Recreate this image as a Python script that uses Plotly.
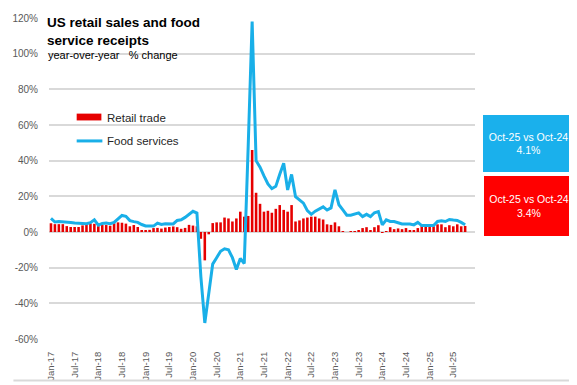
import plotly.graph_objects as go

# Month labels Jan-17 .. Dec-25 (axis runs to Dec-25, data ends Oct-25)
years = list(range(17, 26))
mnames = ["Jan", "Feb", "Mar", "Apr", "May", "Jun", "Jul", "Aug", "Sep", "Oct", "Nov", "Dec"]
months = [f"{m}-{y}" for y in years for m in mnames]

retail_trade = [
    4.9, 4.4, 4.4, 4.4, 3.3, 2.8, 2.8, 2.8, 3.7, 4.2, 4.7, 4.6,
    3.3, 3.9, 3.9, 3.5, 4.9, 5.4, 5.2, 4.7, 3.2, 3.9, 2.8, 0.7,
    0.8, 1.2, 2.2, 2.3, 1.9, 2.5, 2.8, 3.1, 2.7, 1.8, 2.3, 4.0,
    3.6, 3.2, -3.8, -15.9, -1.3, 5.0, 5.4, 5.4, 8.1, 7.6, 5.9, 7.6,
    11.4, 8.6, 9.0, 46.0, 22.0, 15.8, 11.4, 11.9, 10.8, 13.0, 15.1, 12.4,
    11.4, 15.1, 5.9, 6.5, 7.6, 8.1, 8.6, 8.6, 7.6, 7.0, 4.3, 4.0,
    5.4, 3.2, 0.1, 0.0, 0.5, 0.1, 1.1, 2.2, 2.7, 1.1, 2.7, 3.8,
    -0.5, 0.5, 2.7, 1.6, 2.0, 1.6, 2.2, 1.1, 1.1, 2.2, 4.3, 3.8,
    4.3, 3.2, 4.3, 4.3, 2.7, 3.8, 3.2, 4.3, 3.2, 3.4,
]

food_services = [
    7.6, 5.6, 5.9, 5.8, 5.6, 5.3, 5.0, 4.8, 4.6, 4.6, 5.2, 6.8,
    3.8, 4.8, 5.0, 4.7, 5.4, 7.2, 9.3, 8.8, 6.4, 5.8, 5.4, 4.2,
    3.4, 3.3, 3.3, 5.0, 4.2, 4.6, 4.4, 4.5, 6.5, 6.9, 8.2, 10.0,
    11.6, 10.6, -25.0, -51.0, -34.0, -18.0, -14.4, -10.8, -9.4, -10.0, -14.4, -21.0,
    -14.8, -17.7, 48.0, 118.0, 40.0, 36.4, 31.5, 27.0, 24.3, 25.6, 32.4, 38.5,
    23.6, 32.3, 19.8, 18.2, 16.2, 12.0, 9.9, 11.7, 12.8, 14.1, 12.3, 13.5,
    23.6, 15.3, 12.4, 9.4, 9.4, 9.9, 10.7, 8.6, 9.9, 8.6, 10.8, 11.4,
    4.0, 6.8, 5.9, 5.9, 5.4, 4.5, 4.5, 4.5, 4.0, 5.4, 3.6, 3.6,
    4.0, 3.6, 5.9, 6.3, 5.9, 7.0, 6.7, 6.5, 5.4, 4.1,
]

tick_labels = months[0:103:6]
y_ticks = [-60, -40, -20, 0, 20, 40, 60, 80, 100, 120]
y_ticktext = [f"{v}%" for v in y_ticks]

title_text = "US retail sales and food<br>service receipts"
subtitle_text = "year-over-year\u00a0\u00a0\u00a0% change"
legend_names = ["Retail trade", "Food services"]
box_food = "Oct-25 vs Oct-24<br>4.1%"
box_retail = "Oct-25 vs Oct-24<br>3.4%"

BLUE = "#19AFE8"
RED = "#E60000"
GRID = "#D9D9D9"
TXT = "#595959"
FONT = "Liberation Sans, Arial, sans-serif"

# page body has an 8px margin: design in screen coords, shift by OFF
OFF = 8
W, H = 569, 377
L, R, T, B = 36, 102, 4, 44
pw, ph = W - L - R, H - T - B


def px(xs):
    return (xs - OFF - L) / pw


def py(ys):
    return (H - B - (ys - OFF)) / ph


n = len(retail_trade)
fig = go.Figure()
fig.add_trace(go.Bar(
    x=months[:n], y=retail_trade, name=legend_names[0],
    marker=dict(color=RED, line=dict(width=0)), showlegend=False,
))
fig.add_trace(go.Scatter(
    x=months[:len(food_services)], y=food_services, name=legend_names[1],
    mode="lines", line=dict(color=BLUE, width=3), showlegend=False,
))

annotations = [
    dict(text=title_text, x=px(41), y=py(8), xanchor="left", yanchor="top",
         align="left", borderpad=0,
         font=dict(size=13.5, color="#000000", family=FONT, weight="bold")),
    dict(text=subtitle_text, x=px(41), y=py(42), xanchor="left", yanchor="top",
         align="left", font=dict(size=11, color="#000000")),
    dict(text=legend_names[0], x=px(101), y=py(114), xanchor="left", yanchor="middle",
         font=dict(size=11.5, color="#262626")),
    dict(text=legend_names[1], x=px(101), y=py(138), xanchor="left", yanchor="middle",
         font=dict(size=11.5, color="#262626")),
    dict(text=box_food, x=px(529.5), y=py(140.5), xanchor="center", yanchor="middle",
         bgcolor="#1AB0EC", width=91, height=57, borderpad=0, borderwidth=0,
         font=dict(size=10.5, color="white")),
    dict(text=box_retail, x=px(530), y=py(205), xanchor="center", yanchor="middle",
         bgcolor="#FF0000", width=90, height=60, borderpad=0, borderwidth=0,
         font=dict(size=10.5, color="white")),
]
for a in annotations:
    a.update(xref="paper", yref="paper", showarrow=False)

shapes = [
    # legend swatches
    dict(type="rect", xref="paper", yref="paper", x0=px(72), x1=px(97),
         y0=py(117), y1=py(110), fillcolor=RED, line=dict(width=0)),
    dict(type="line", xref="paper", yref="paper", x0=px(72), x1=px(98),
         y0=py(138), y1=py(138), line=dict(color=BLUE, width=3)),
    # chart-area border (right and bottom edges that fit on the page)
    dict(type="line", xref="paper", yref="paper", x0=px(575.5), x1=px(575.5),
         y0=py(383.5), y1=py(8), line=dict(color=GRID, width=2)),
    dict(type="line", xref="paper", yref="paper", x0=px(8), x1=px(575.5),
         y0=py(383.5), y1=py(383.5), line=dict(color=GRID, width=2)),
]

fig.update_layout(
    width=W, height=H,
    margin=dict(l=L, r=R, t=T, b=B, pad=0),
    paper_bgcolor="white", plot_bgcolor="white",
    font=dict(family=FONT, color=TXT, size=11),
    bargap=0.35,
    showlegend=False,
    xaxis=dict(
        type="category", categoryorder="array", categoryarray=months,
        range=[-0.5, len(months) - 0.5],
        tickmode="array", tickvals=tick_labels, ticktext=tick_labels,
        tickangle=-90, tickfont=dict(size=9.5, color=TXT),
        showgrid=False, zeroline=False, showline=False,
        ticks="outside", ticklen=8, tickcolor="rgba(0,0,0,0)",
    ),
    yaxis=dict(
        range=[-60, 120], tickmode="array", tickvals=y_ticks, ticktext=y_ticktext,
        tickfont=dict(size=10, color=TXT), ticklabeloverflow="allow",
        showgrid=True, gridcolor=GRID, gridwidth=2,
        zeroline=True, zerolinecolor=GRID, zerolinewidth=2,
        showline=False, ticks="outside", ticklen=8, tickcolor="rgba(0,0,0,0)",
    ),
    annotations=annotations,
    shapes=shapes,
)

fig.write_html("out.html")
